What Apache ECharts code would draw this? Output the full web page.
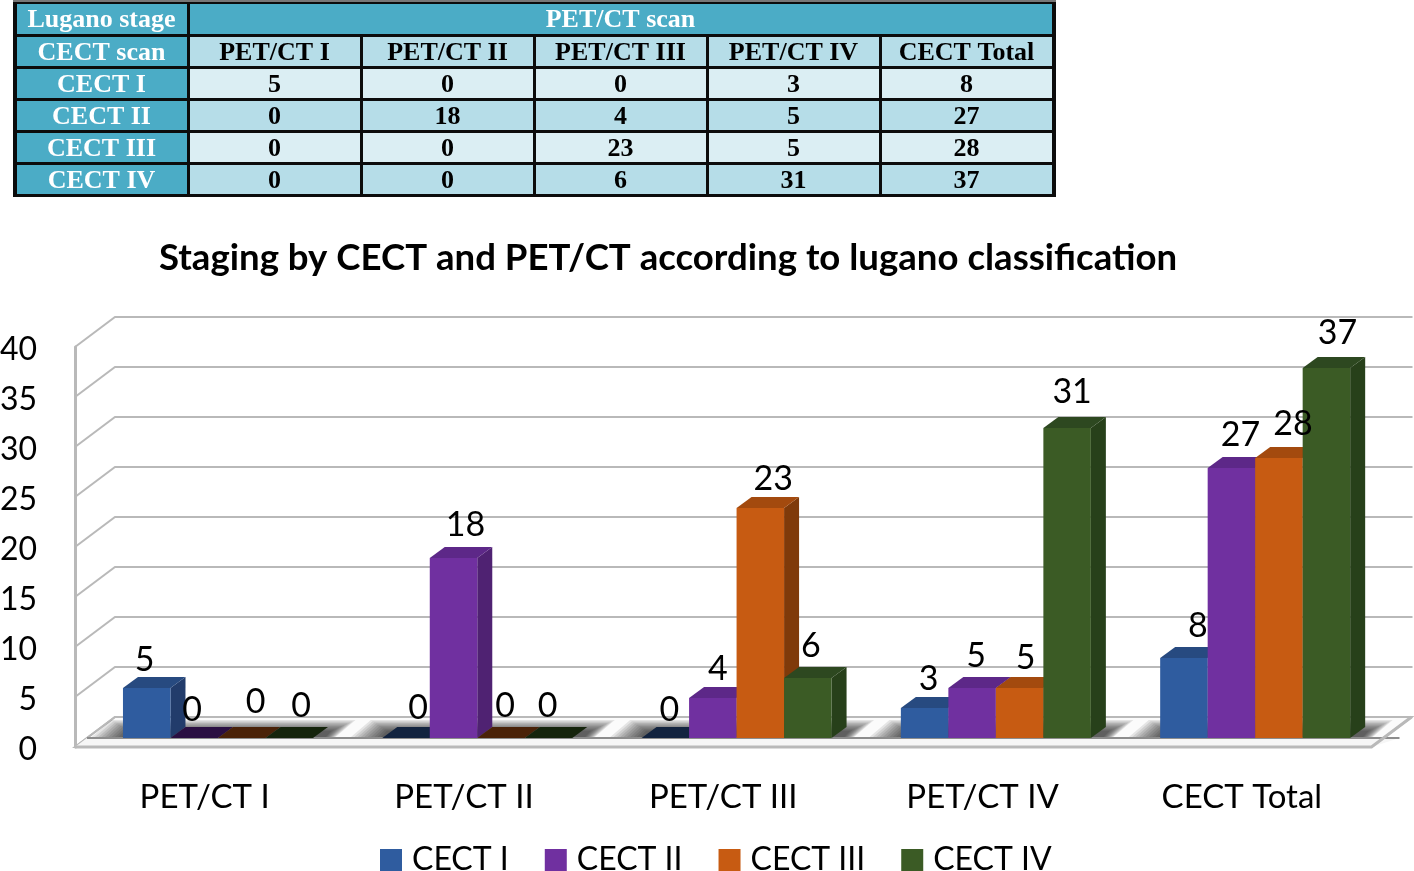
<!DOCTYPE html>
<html>
<head>
<meta charset="utf-8">
<title>Staging by CECT and PET/CT</title>
<script src="https://cdn.jsdelivr.net/npm/echarts@6/dist/echarts.min.js"></script>
<style>
  html, body { margin: 0; padding: 0; background: #fff; }
  #chart { width: 1414px; height: 871px; }
</style>
</head>
<body>
<div id="chart"></div>
<script>
// chart data
const categories = ['PET/CT I', 'PET/CT II', 'PET/CT III', 'PET/CT IV', 'CECT Total']
const cectI = [5, 0, 0, 3, 8]
const cectII = [0, 18, 4, 5, 27]
const cectIII = [0, 0, 23, 5, 28]
const cectIV = [0, 0, 6, 31, 37]
const seriesNames = ['CECT I', 'CECT II', 'CECT III', 'CECT IV']
const yTicks = [0, 5, 10, 15, 20, 25, 30, 35, 40]

// table text
const tableCorner = 'Lugano stage'
const tableSpan = 'PET/CT scan'
const tableRowHead = 'CECT scan'

// colours of each bar: front, top, side
const faces = [
  ['#2f5c9f', '#274a80', '#223c6b'],
  ['#7030a0', '#5d2888', '#4f2272'],
  ['#c75b12', '#a34a0e', '#7f3a0a'],
  ['#3b5b25', '#2d4820', '#27401a']
]
const zeroColors = ['#12233f', '#2a0f42', '#4a2208', '#15240c']
const allValues = [cectI, cectII, cectIII, cectIV]

// the labels were hand placed in the original, so they each get a nudge [dx, dy]
const labelNudge = [
  [[-2, -30], [12, -32], [4, -30], [4, -31], [14, -34]],
  [[-2, -30], [12, -35], [5, -31], [4, -34], [9, -35]],
  [[14, -38], [4, -34], [13, -31], [6, -32], [14, -36]],
  [[12, -34], [-1, -34], [3, -34], [5, -38], [11, -37]]
]

const gridLine = '#b9b9b9'
const wallDx = 40
const wallDy = 30
const barDx = 15
const barDy = 11
const floorLift = 9
const barShare = 47.5 / 259.3
const labelFont = '34px Lato'
const shadowLayers = 10

function pts () {
  return Array.prototype.slice.call(arguments)
}

// left edge of one bar, measured from the category centre
function barLeft (cx, band, s) {
  return cx - band * 0.315 + s * band * barShare
}

function renderWall (params, api) {
  const p = api.coord([0, api.value(0)])
  const r = params.coordSys
  const y = p[1]
  return {
    type: 'polyline',
    shape: { points: pts([r.x, y], [r.x + wallDx, y - wallDy], [r.x + r.width + wallDx + 1, y - wallDy]) },
    style: { stroke: gridLine, lineWidth: 2, fill: null }
  }
}

function renderFloor (params, api) {
  const r = params.coordSys
  const y = r.y + r.height
  return {
    type: 'polygon',
    shape: { points: pts([r.x, y], [r.x + r.width, y], [r.x + r.width + wallDx, y - wallDy], [r.x + wallDx, y - wallDy]) },
    style: { fill: '#fbfbfb', stroke: gridLine, lineWidth: 2 }
  }
}

// soft shadow on the floor: stacked see-through polygons, each smaller than the last
function renderShadow (params, api) {
  const p = api.coord([api.value(0), 0])
  const band = api.size([1, 0])[0]
  const left = barLeft(p[0], band, 0)
  const right = barLeft(p[0], band, 4)
  const y = p[1] - floorLift
  const skew = barDx / barDy
  const children = []
  for (let k = 0; k < shadowLayers; k++) {
    const rise = 18 - k * 1.2
    const l = left - 36 + k * 3.4
    const rr = right + 18 - k * 1
    children.push({
      type: 'polygon',
      shape: { points: pts([l, y + 3], [rr, y + 3], [rr + rise * skew, y - rise], [l + rise * skew, y - rise]) },
      style: { fill: 'rgba(0,0,0,0.09)' }
    })
  }
  return { type: 'group', children: children }
}

function renderStrip (params, api) {
  const r = params.coordSys
  const y = r.y + r.height
  return {
    type: 'group',
    children: [
      {
        type: 'polygon',
        shape: { points: pts([r.x, y], [r.x + r.width, y], [r.x + r.width + wallDx - 12, y - floorLift], [r.x + 12, y - floorLift]) },
        style: { fill: '#f6f6f6' }
      },
      {
        type: 'polyline',
        shape: { points: pts([r.x + 12, y - floorLift], [r.x + r.width + 28, y - floorLift]) },
        style: { stroke: '#8d8d8d', lineWidth: 2, fill: null }
      },
      {
        type: 'polyline',
        shape: { points: pts([r.x, y], [r.x + r.width, y], [r.x + r.width + wallDx, y - wallDy]) },
        style: { stroke: gridLine, lineWidth: 3, fill: null }
      }
    ]
  }
}

function barRenderer (s) {
  return function (params, api) {
    const cat = api.value(0)
    const val = api.value(1)
    const p0 = api.coord([cat, 0])
    const p1 = api.coord([cat, val])
    const band = api.size([1, 0])[0]
    const w = band * barShare
    const x = barLeft(p0[0], band, s)
    const base = p0[1] - floorLift
    const top = p1[1] - floorLift
    const c = faces[s]
    if (val === 0) {
      return {
        type: 'polygon',
        shape: { points: pts([x, base], [x + w, base], [x + w + barDx, base - barDy], [x + barDx, base - barDy]) },
        style: { fill: zeroColors[s] }
      }
    }
    return {
      type: 'group',
      children: [
        { type: 'polygon', shape: { points: pts([x + w, base], [x + w + barDx, base - barDy], [x + w + barDx, top - barDy], [x + w, top]) }, style: { fill: c[2] } },
        { type: 'polygon', shape: { points: pts([x, top], [x + w, top], [x + w + barDx, top - barDy], [x + barDx, top - barDy]) }, style: { fill: c[1] } },
        { type: 'rect', shape: { x: x, y: top, width: w, height: base - top }, style: { fill: c[0] } }
      ]
    }
  }
}

function renderLabel (params, api) {
  const cat = api.value(0)
  const s = api.value(2)
  const p = api.coord([cat, api.value(1)])
  const band = api.size([1, 0])[0]
  const nudge = labelNudge[s][cat]
  return {
    type: 'text',
    style: {
      text: String(api.value(1)),
      x: barLeft(p[0], band, s) + band * barShare / 2 + nudge[0],
      y: p[1] - floorLift + nudge[1] + 2,
      align: 'center',
      verticalAlign: 'middle',
      font: labelFont,
      fill: '#000'
    }
  }
}

const labelData = []
allValues.forEach((vals, s) => {
  vals.forEach((v, c) => labelData.push([c, v, s]))
})

const barSeries = allValues.map((vals, s) => ({
  name: seriesNames[s],
  type: 'custom',
  z: 4 + s,
  silent: true,
  clip: false,
  renderItem: barRenderer(s),
  itemStyle: { color: faces[s][0] },
  encode: { x: 0, y: 1 },
  data: vals.map((v, c) => [c, v])
}))

// table, built from the same arrays
const colX = [15, 188, 361, 534, 707, 880, 1053]
const rowY = [2, 35, 67, 99, 131, 163, 195]
const headBlue = '#4bacc6'
const tableFont = 'bold 26px "Liberation Serif"'
const tableEls = [
  { type: 'rect', shape: { x: 13, y: 0, width: 1043, height: 197 }, style: { fill: '#0c0c0c' } },
  { type: 'rect', shape: { x: 13, y: 0, width: 1043, height: 2 }, style: { fill: '#777' } }
]

function cell (c0, c1, r, fill, text, color) {
  tableEls.push({
    type: 'rect',
    shape: { x: colX[c0] + 2, y: rowY[r] + 2, width: colX[c1] - colX[c0] - 3, height: rowY[r + 1] - rowY[r] - 3 },
    style: { fill: fill }
  })
  tableEls.push({
    type: 'text',
    style: {
      text: text,
      x: (colX[c0] + colX[c1]) / 2,
      y: (rowY[r] + rowY[r + 1]) / 2 + 2,
      align: 'center',
      verticalAlign: 'middle',
      font: tableFont,
      fill: color
    }
  })
}

cell(0, 1, 0, headBlue, tableCorner, '#fff')
cell(1, 6, 0, headBlue, tableSpan, '#fff')
cell(0, 1, 1, headBlue, tableRowHead, '#fff')
categories.forEach((name, c) => cell(c + 1, c + 2, 1, '#b6dde8', name, '#000'))
seriesNames.forEach((name, s) => {
  const fill = s % 2 === 0 ? '#dbeef3' : '#b6dde8'
  cell(0, 1, s + 2, headBlue, name, '#fff')
  allValues[s].forEach((v, c) => cell(c + 1, c + 2, s + 2, fill, String(v), '#000'))
})

const chart = echarts.init(document.getElementById('chart'))
chart.setOption({
  animation: false,
  backgroundColor: '#fff',
  title: {
    text: 'Staging by CECT and PET/CT according to lugano classification',
    left: 154,
    top: 235,
    textStyle: { fontFamily: 'Lato', fontWeight: 'bold', fontSize: 36.6, color: '#000' }
  },
  legend: {
    data: seriesNames,
    left: 375,
    top: 839,
    itemWidth: 22,
    itemHeight: 22,
    itemGap: 36,
    icon: 'rect',
    textStyle: { fontFamily: 'Lato', fontSize: 32, color: '#000', padding: [0, 0, 0, 5] },
    selectedMode: false
  },
  grid: { left: 75, top: 347, width: 1296.5, height: 400, outerBoundsMode: 'none' },
  xAxis: {
    type: 'category',
    data: categories,
    axisLine: { show: false },
    axisTick: { show: false },
    axisLabel: { fontFamily: 'Lato', fontSize: 33, color: '#000', margin: 34 }
  },
  yAxis: {
    type: 'value',
    min: 0,
    max: 40,
    interval: 5,
    splitLine: { show: false },
    axisTick: { show: false },
    axisLine: { show: true, lineStyle: { color: gridLine, width: 3 } },
    // top aligned with a short line height, puts the digits a little under the tick
    axisLabel: { fontFamily: 'Lato', fontSize: 32, color: '#000', margin: 38, verticalAlign: 'top', lineHeight: 6 }
  },
  graphic: { elements: tableEls },
  series: [
    { type: 'custom', z: 1, silent: true, clip: false, renderItem: renderFloor, data: [0] },
    { type: 'custom', z: 2, silent: true, clip: false, renderItem: renderWall, encode: { y: 0 }, data: yTicks },
    { type: 'custom', z: 3, silent: true, clip: false, renderItem: renderShadow, data: categories.map((n, c) => [c]) },
    { type: 'custom', z: 3, silent: true, clip: false, renderItem: renderStrip, data: [0] }
  ].concat(barSeries, [
    { type: 'custom', z: 20, silent: true, clip: false, renderItem: renderLabel, data: labelData }
  ])
})
</script>
</body>
</html>
